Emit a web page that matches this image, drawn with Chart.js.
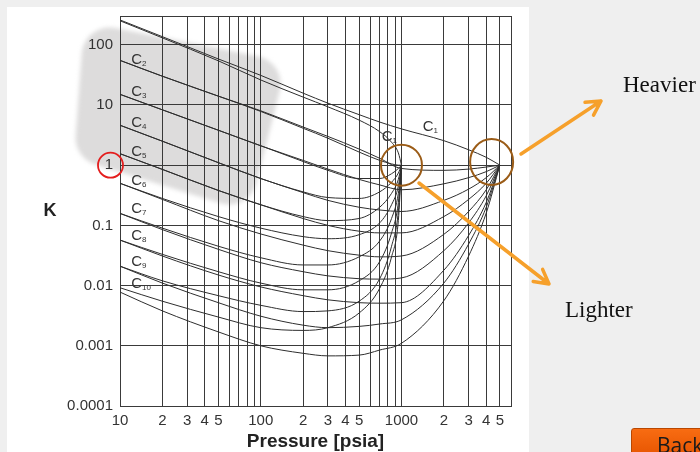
<!DOCTYPE html>
<html>
<head>
<meta charset="utf-8">
<script src="https://cdn.jsdelivr.net/npm/chart.js@4.4.0/dist/chart.umd.min.js"></script>
<style>
  html, body { margin: 0; padding: 0; }
  body { width: 700px; height: 452px; background: #efefef; position: relative; overflow: hidden; }
  #panel { position: absolute; left: 7px; top: 7px; width: 522px; height: 460px; background: #fff; }
  #wrap { position: absolute; left: 0; top: 0; width: 700px; height: 452px; }
  #backBtn {
    position: absolute; left: 631px; top: 428px; width: 90px; height: 30px;
    background: linear-gradient(#f86c12, #e65400); border: 1px solid #b94700; border-radius: 3px;
    font-family: "Open Sans", "Liberation Sans", sans-serif; font-size: 21px; color: #1a1a1a;
    box-sizing: border-box; padding: 4px 0 0 25px; line-height: 1.2;
  }
</style>
</head>
<body>
<div id="panel"></div>
<div id="wrap"><canvas id="kChart" width="700" height="452"></canvas></div>
<div id="backBtn">Back</div>
<script>
// pressures (psia) where K was read, for convergence pressure 1000 and 5000 psia
const pConv1000 = [10, 20, 50, 100, 200, 300, 500, 700, 850, 950, 1000];
const pConv5000 = [10, 20, 50, 100, 200, 300, 500, 700, 1000, 2000, 3000, 4000, 5000];

// K values, convergence pressure 1000 psia
const kC1_1000  = [250, 130, 54, 26, 13.5, 9.3, 5.6, 3.6, 2.4, 1.6, 1];
const kC2_1000  = [55, 30, 14, 7.8, 4.1, 2.8, 1.65, 1.2, 1.05, 1.0, 1];
const kC3_1000  = [15, 8.3, 3.8, 2.1, 1.15, 0.82, 0.6, 0.6, 0.72, 0.88, 1];
const kC4_1000  = [4.6, 2.5, 1.1, 0.6, 0.36, 0.29, 0.28, 0.36, 0.52, 0.74, 1];
const kC5_1000  = [1.55, 0.85, 0.38, 0.22, 0.14, 0.12, 0.13, 0.2, 0.34, 0.58, 1];
const kC6_1000  = [0.5, 0.28, 0.14, 0.09, 0.065, 0.06, 0.07, 0.11, 0.22, 0.45, 1];
const kC7_1000  = [0.158, 0.09, 0.045, 0.029, 0.022, 0.022, 0.03, 0.055, 0.13, 0.34, 1];
const kC8_1000  = [0.057, 0.033, 0.017, 0.011, 0.0085, 0.0085, 0.012, 0.025, 0.075, 0.24, 1];
const kC9_1000  = [0.021, 0.012, 0.0068, 0.0047, 0.0037, 0.0038, 0.0055, 0.013, 0.045, 0.17, 1];
const kC10_1000 = [0.0092, 0.0055, 0.003, 0.002, 0.0018, 0.002, 0.0035, 0.009, 0.03, 0.12, 1];

// K values, convergence pressure 5000 psia
const kC1_5000  = [258, 136, 58, 31, 15.7, 10.7, 6.9, 5.2, 4.0, 2.55, 1.8, 1.35, 1];
const kC2_5000  = [55, 30, 14, 8.0, 4.3, 3.0, 1.85, 1.3, 0.88, 0.82, 0.86, 0.93, 1];
const kC3_5000  = [15, 8.3, 3.8, 2.1, 1.2, 0.86, 0.58, 0.47, 0.39, 0.49, 0.62, 0.78, 1];
const kC4_5000  = [4.6, 2.5, 1.1, 0.6, 0.35, 0.26, 0.2, 0.18, 0.17, 0.26, 0.4, 0.62, 1];
const kC5_5000  = [1.55, 0.85, 0.38, 0.22, 0.13, 0.1, 0.08, 0.075, 0.075, 0.14, 0.27, 0.5, 1];
const kC6_5000  = [0.5, 0.27, 0.12, 0.072, 0.047, 0.038, 0.032, 0.03, 0.031, 0.071, 0.17, 0.39, 1];
const kC7_5000  = [0.158, 0.085, 0.04, 0.024, 0.017, 0.0145, 0.013, 0.0128, 0.0134, 0.038, 0.11, 0.31, 1];
const kC8_5000  = [0.057, 0.031, 0.015, 0.0095, 0.0068, 0.0058, 0.0052, 0.0051, 0.0052, 0.018, 0.068, 0.24, 1];
const kC9_5000  = [0.021, 0.011, 0.0052, 0.0031, 0.0022, 0.002, 0.0021, 0.0023, 0.0027, 0.011, 0.049, 0.2, 1];
const kC10_5000 = [0.0078, 0.0038, 0.0017, 0.001, 0.00075, 0.00068, 0.0007, 0.00085, 0.0011, 0.0056, 0.031, 0.16, 1];

// axis ticks
const xGridValues = [10, 20, 30, 40, 50, 60, 70, 80, 90, 100, 200, 300, 400, 500, 600, 700, 800, 900,
  1000, 2000, 3000, 4000, 5000, 6000];
const xTickValues = [10, 20, 30, 40, 50, 100, 200, 300, 400, 500, 1000, 2000, 3000, 4000, 5000];
const xTickLabels = ['10', '2', '3', '4', '5', '100', '2', '3', '4', '5', '1000', '2', '3', '4', '5'];
const yTickValues = [0.0001, 0.001, 0.01, 0.1, 1, 10, 100, 300];
const yTickLabels = ['0.0001', '0.001', '0.01', '0.1', '1', '10', '100', ''];

// curve labels: [subscript, pressure, K] (left edge / middle of the text)
const curveLabels = [
  ['2', 12, 55.6], ['3', 12, 16.8], ['4', 12, 5.0], ['5', 12, 1.69], ['6', 12, 0.547],
  ['7', 12, 0.191], ['8', 12, 0.066], ['9', 12, 0.0247], ['10', 12, 0.0106],
  ['1', 724, 2.94], ['1', 1416, 4.4]
];

const SANS = '"Liberation Sans", Arial, sans-serif';

function makeSet(pArr, kArr) {
  return {
    data: pArr.map((p, i) => ({ x: p, y: kArr[i] })),
    borderColor: '#2e2e2e',
    borderWidth: 1,
    pointRadius: 0,
    fill: false,
    cubicInterpolationMode: 'monotone'
  };
}

const datasets = [
  makeSet(pConv1000, kC1_1000), makeSet(pConv5000, kC1_5000),
  makeSet(pConv1000, kC2_1000), makeSet(pConv5000, kC2_5000),
  makeSet(pConv1000, kC3_1000), makeSet(pConv5000, kC3_5000),
  makeSet(pConv1000, kC4_1000), makeSet(pConv5000, kC4_5000),
  makeSet(pConv1000, kC5_1000), makeSet(pConv5000, kC5_5000),
  makeSet(pConv1000, kC6_1000), makeSet(pConv5000, kC6_5000),
  makeSet(pConv1000, kC7_1000), makeSet(pConv5000, kC7_5000),
  makeSet(pConv1000, kC8_1000), makeSet(pConv5000, kC8_5000),
  makeSet(pConv1000, kC9_1000), makeSet(pConv5000, kC9_5000),
  makeSet(pConv1000, kC10_1000), makeSet(pConv5000, kC10_5000)
];

// rounded four-corner shape
function roundedPoly(ctx, pts, r) {
  const n = pts.length;
  ctx.beginPath();
  ctx.moveTo((pts[n - 1][0] + pts[0][0]) / 2, (pts[n - 1][1] + pts[0][1]) / 2);
  for (let i = 0; i < n; i++) {
    const a = pts[i], b = pts[(i + 1) % n];
    ctx.arcTo(a[0], a[1], b[0], b[1], r);
  }
  ctx.closePath();
}

function arrow(ctx, x1, y1, x2, y2) {
  const ang = Math.atan2(y2 - y1, x2 - x1);
  const len = 16;
  ctx.beginPath();
  ctx.moveTo(x1, y1);
  ctx.lineTo(x2, y2);
  ctx.moveTo(x2 - len * Math.cos(ang - 0.5), y2 - len * Math.sin(ang - 0.5));
  ctx.lineTo(x2, y2);
  ctx.lineTo(x2 - len * Math.cos(ang + 0.5), y2 - len * Math.sin(ang + 0.5));
  ctx.stroke();
}

const slidePlugin = {
  id: 'slide',
  beforeDraw(chart) {
    // grey highlight box behind the upper left
    const ctx = chart.ctx;
    ctx.save();
    ctx.filter = 'blur(2px)';
    ctx.fillStyle = '#dddcdc';
    roundedPoly(ctx, [[84, 22], [287, 62], [249, 212], [74, 158]], 28);
    ctx.fill();
    ctx.restore();
  },
  afterDatasetsDraw(chart) {
    const ctx = chart.ctx;
    const xs = chart.scales.x, ys = chart.scales.y;
    ctx.save();
    ctx.fillStyle = '#333';
    ctx.textBaseline = 'middle';
    curveLabels.forEach(([sub, p, k]) => {
      const px = xs.getPixelForValue(p), py = ys.getPixelForValue(k);
      ctx.font = '15px ' + SANS;
      ctx.fillText('C', px, py);
      const w = ctx.measureText('C').width;
      ctx.font = '8px ' + SANS;
      ctx.fillText(sub, px + w, py + 4);
    });
    ctx.restore();
  },
  afterDraw(chart) {
    const ctx = chart.ctx;
    const area = chart.chartArea;
    const xs = chart.scales.x, ys = chart.scales.y;
    ctx.save();
    // axis titles
    ctx.fillStyle = '#222';
    ctx.textAlign = 'center';
    ctx.textBaseline = 'middle';
    ctx.font = 'bold 18px ' + SANS;
    ctx.fillText('K', area.left - 70, (area.top + area.bottom) / 2);
    ctx.font = 'bold 19px ' + SANS;
    ctx.fillText('Pressure [psia]', (area.left + area.right) / 2, area.bottom + 36);

    // red ring round the "1" tick
    ctx.strokeStyle = '#e41d1d';
    ctx.lineWidth = 1.8;
    ctx.beginPath();
    ctx.arc(area.left - 9.5, ys.getPixelForValue(1), 12.5, 0, Math.PI * 2);
    ctx.stroke();

    // brown rings at the convergence points
    ctx.strokeStyle = '#9b5c17';
    ctx.lineWidth = 2;
    ctx.beginPath();
    ctx.arc(xs.getPixelForValue(1000), ys.getPixelForValue(1), 20.5, 0, Math.PI * 2);
    ctx.stroke();
    ctx.beginPath();
    ctx.ellipse(xs.getPixelForValue(4370), ys.getPixelForValue(1.13), 21.5, 23, 0, 0, Math.PI * 2);
    ctx.stroke();

    // orange arrows
    ctx.strokeStyle = '#f6a02b';
    ctx.lineWidth = 3.5;
    ctx.lineCap = 'round';
    ctx.lineJoin = 'round';
    arrow(ctx, 521, 154, 601, 101);
    arrow(ctx, 419, 183, 549, 284);

    ctx.fillStyle = '#111';
    ctx.textAlign = 'left';
    ctx.textBaseline = 'alphabetic';
    ctx.font = '23px "Liberation Serif", "Times New Roman", serif';
    ctx.fillText('Heavier', 623, 91.5);
    ctx.fillText('Lighter', 565, 316.5);
    ctx.restore();
  }
};

const gridStyle = { color: '#3a3a3a', lineWidth: 1, drawTicks: false };

const ctx = document.getElementById('kChart').getContext('2d');
const kChart = new Chart(ctx, {
  type: 'line',
  data: { datasets: datasets },
  options: {
    responsive: false,
    animation: false,
    devicePixelRatio: 1,
    layout: { padding: { left: 0, top: 16, right: 189, bottom: 0 } },
    plugins: { legend: { display: false }, tooltip: { enabled: false } },
    scales: {
      x: {
        type: 'logarithmic',
        min: 10,
        max: 6000,
        afterFit: (s) => { s.height = 46; },
        afterBuildTicks: (s) => { s.ticks = xGridValues.map(v => ({ value: v })); },
        grid: gridStyle,
        border: { color: '#3a3a3a' },
        ticks: {
          autoSkip: false,
          maxRotation: 0,
          padding: 6,
          color: '#333',
          font: { family: SANS, size: 15 },
          callback: (v) => {
            const i = xTickValues.indexOf(v);
            return i >= 0 ? xTickLabels[i] : '';
          }
        }
      },
      y: {
        type: 'logarithmic',
        min: 0.0001,
        max: 300,
        afterFit: (s) => { s.width = 120; },
        afterBuildTicks: (s) => { s.ticks = yTickValues.map(v => ({ value: v })); },
        grid: gridStyle,
        border: { color: '#3a3a3a' },
        ticks: {
          autoSkip: false,
          padding: 7,
          color: '#333',
          font: { family: SANS, size: 15 },
          callback: (v) => {
            const i = yTickValues.indexOf(v);
            return i >= 0 ? yTickLabels[i] : '';
          }
        }
      }
    }
  },
  plugins: [slidePlugin]
});
</script>
</body>
</html>
